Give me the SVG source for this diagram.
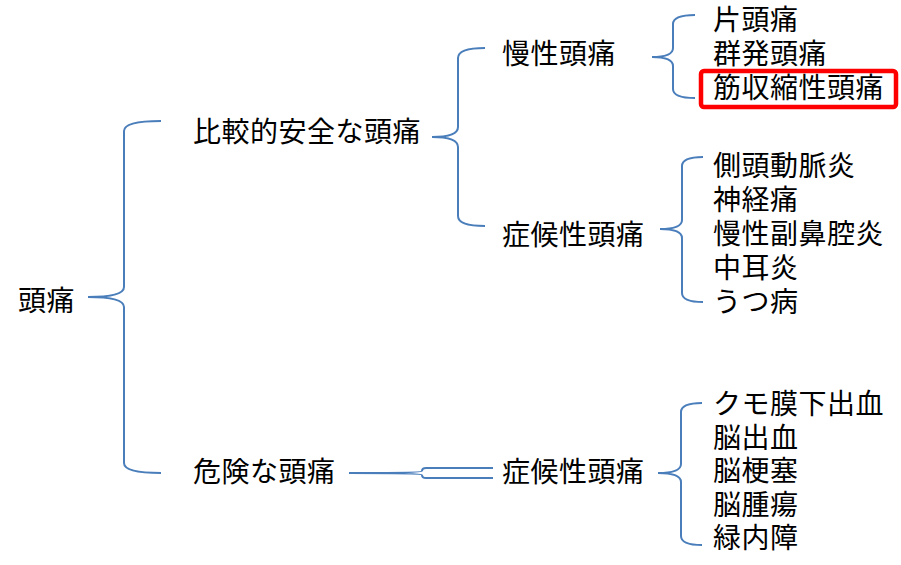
<svg xmlns="http://www.w3.org/2000/svg" width="901" height="565" viewBox="0 0 901 565">
<style>
text{font-family:"Noto Sans CJK JP","Noto Sans CJK SC",sans-serif;font-size:28px;letter-spacing:0.5px;fill:#000}
.br{fill:none;stroke:#4a7ebb;stroke-width:2}
.hl{fill:none;stroke:#ff0000;stroke-width:4.5}
</style>
<rect width="901" height="565" fill="#fff"/>
<g id="connectors">
<path class="br" d="M161,121 Q124,121 124,131 L124,287 Q124,297 88,297 Q124,297 124,307 L124,463 Q124,473 161,473"/>
<path class="br" d="M485,48 Q458,48 458,58 L458,127 Q458,137 432,137 Q458,137 458,147 L458,216 Q458,226 485,226"/>
<path class="br" d="M695,15 Q673,15 673,24 L673,48 Q673,57 652,57 Q673,57 673,66 L673,89 Q673,98 695,98"/>
<path class="br" d="M703,157 Q682,157 682,166 L682,220 Q682,229 660,229 Q682,229 682,238 L682,293 Q682,302 703,302"/>
<path class="br" d="M702,403 Q681,403 681,412 L681,464 Q681,473 658,473 Q681,473 681,482 L681,536 Q681,545 702,545"/>
<path class="br" d="M493,468 L426,468 Q422,468 422,471 Q422,473 349,473 Q422,473 422,475 Q422,478 426,478 L493,478"/>
</g>
<g id="n-root"><text x="18" y="311">頭痛</text></g>
<g id="n-safe"><text x="193" y="142">比較的安全な頭痛</text></g>
<g id="n-danger"><text x="193" y="482">危険な頭痛</text></g>
<g id="n-chronic"><text x="502" y="64">慢性頭痛</text></g>
<g id="n-symp1"><text x="502" y="245">症候性頭痛</text></g>
<g id="n-symp2"><text x="502" y="482">症候性頭痛</text></g>
<g id="n-migraine"><text x="713" y="30">片頭痛</text></g>
<g id="n-cluster"><text x="713" y="64">群発頭痛</text></g>
<g id="n-tension"><rect class="hl" x="701" y="71" width="195" height="36" rx="3"/><text x="713" y="98">筋収縮性頭痛</text></g>
<g id="n-temporal"><text x="713" y="176">側頭動脈炎</text></g>
<g id="n-neuralgia"><text x="713" y="210">神経痛</text></g>
<g id="n-sinusitis"><text x="713" y="244">慢性副鼻腔炎</text></g>
<g id="n-otitis"><text x="713" y="278">中耳炎</text></g>
<g id="n-depression"><text x="713" y="312">うつ病</text></g>
<g id="n-sah"><text x="713" y="414">クモ膜下出血</text></g>
<g id="n-ich"><text x="713" y="448">脳出血</text></g>
<g id="n-infarct"><text x="713" y="481">脳梗塞</text></g>
<g id="n-tumor"><text x="713" y="515">脳腫瘍</text></g>
<g id="n-glaucoma"><text x="713" y="548">緑内障</text></g>
</svg>
